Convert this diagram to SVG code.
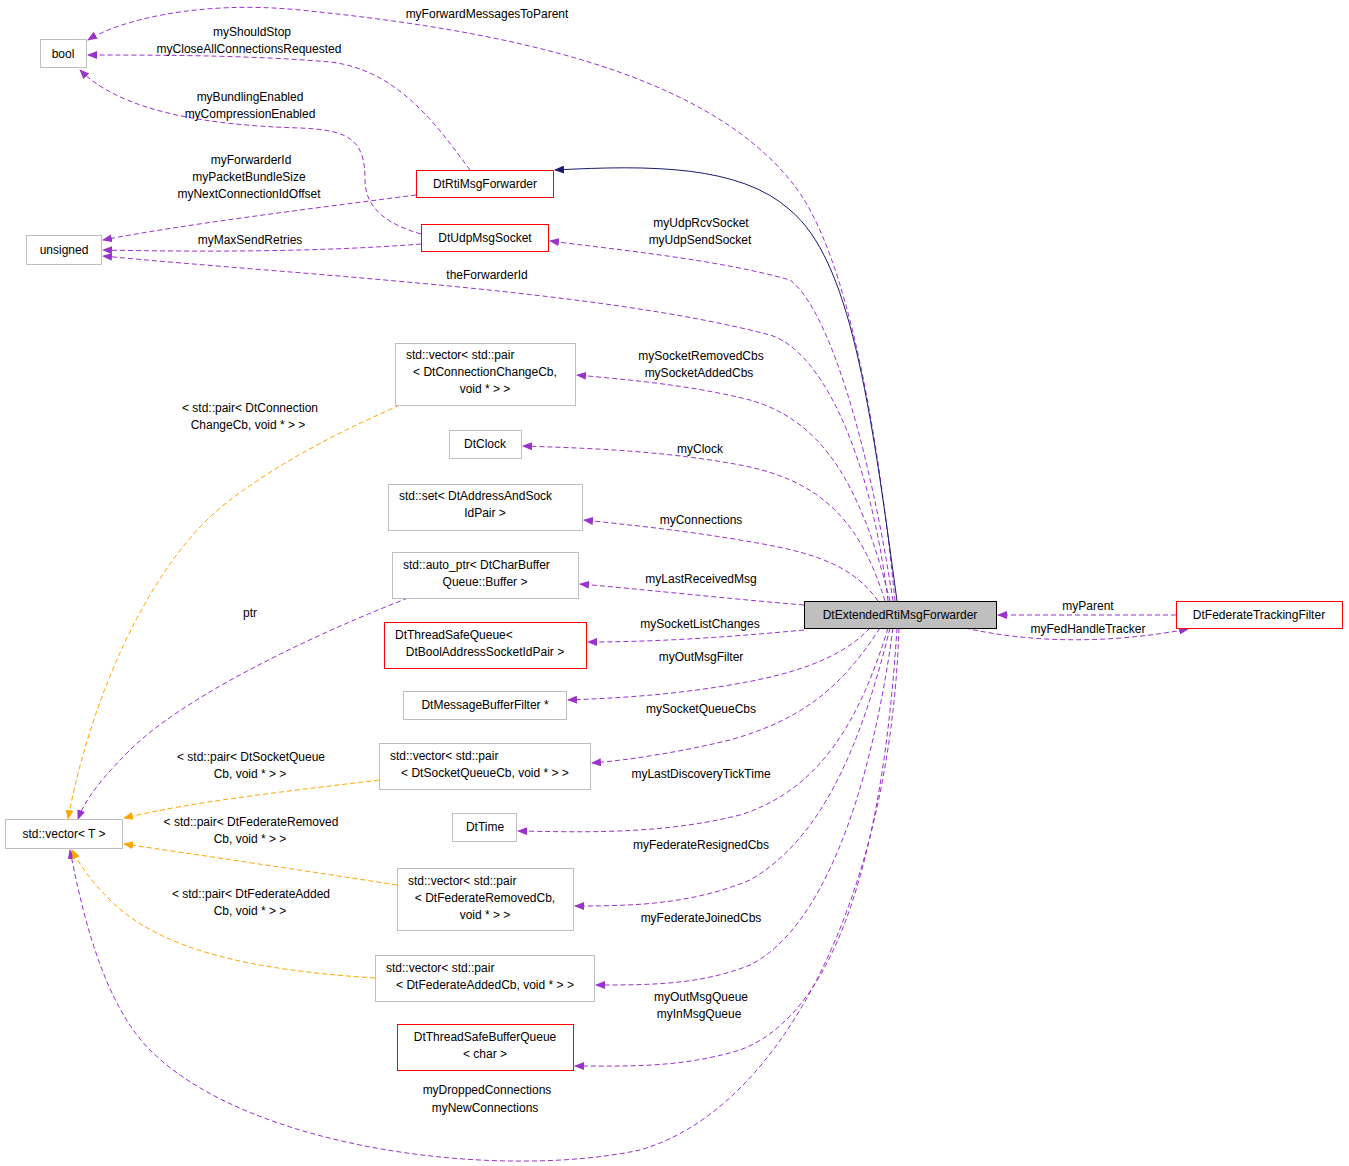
<svg xmlns="http://www.w3.org/2000/svg" width="1349" height="1166" viewBox="0 0 1349 1166">
<defs>
<style>
text{font-family:"Liberation Sans",Arial,sans-serif;font-size:12px;fill:#000}
.n rect{fill:#fff;stroke:#bfbfbf;stroke-width:1}
.r rect{stroke:#ff0000}
.e path{fill:none;stroke:#9a32cd;stroke-dasharray:5,3;stroke-width:1}
.e path.o{stroke:#ffa500}
.e path.s{stroke:#191970;stroke-dasharray:none}
.e path.p{marker-end:url(#mp)}
.e path.o{marker-end:url(#mo)}
.e path.s{marker-end:url(#ms)}
</style>
<marker id="mp" markerWidth="10" markerHeight="8" refX="9" refY="4" orient="auto" markerUnits="userSpaceOnUse"><path d="M0,0 L10,4 L0,8z" fill="#9a32cd"/></marker>
<marker id="mo" markerWidth="10" markerHeight="8" refX="9" refY="4" orient="auto" markerUnits="userSpaceOnUse"><path d="M0,0 L10,4 L0,8z" fill="#ffa500"/></marker>
<marker id="ms" markerWidth="10" markerHeight="8" refX="9" refY="4" orient="auto" markerUnits="userSpaceOnUse"><path d="M0,0 L10,4 L0,8z" fill="#191970"/></marker>
</defs>
<rect width="1349" height="1166" fill="#fff"/>
<g id="edges" class="e">
<path class="p" d="M895,601 C880,450 850,250 790,180 C700,70 500,30 300,10 C200,0 120,20 88,40"/>
<path class="p" d="M470,170 C440,130 400,70 330,62 C250,55 150,55 88,55"/>
<path class="p" d="M421,234 C390,225 365,210 365,180 C365,140 350,130 300,128 C200,125 120,110 80,70"/>
<path class="p" d="M416,195 C300,210 180,225 103,240"/>
<path class="p" d="M421,244 C320,252 200,252 103,250"/>
<path class="p" d="M888,601 C870,450 820,350 770,335 C600,290 300,275 103,256"/>
<path class="s" d="M897,601 C870,400 850,260 790,210 C740,165 650,165 555,170"/>
<path class="p" d="M893,601 C870,450 830,310 790,280 C720,260 620,250 550,241"/>
<path class="p" d="M890,601 C860,480 820,420 750,400 C690,385 630,380 577,375"/>
<path class="p" d="M885,601 C860,520 820,480 740,465 C660,450 580,448 523,446"/>
<path class="p" d="M878,601 C850,560 800,550 740,540 C680,530 630,525 584,520"/>
<path class="p" d="M804,605 C720,598 650,590 580,584"/>
<path class="p" d="M804,630 C720,638 650,642 588,642"/>
<path class="p" d="M870,628 C840,660 790,675 730,685 C670,695 620,698 568,700"/>
<path class="p" d="M880,628 C840,690 800,720 730,740 C680,752 630,760 592,763"/>
<path class="p" d="M888,628 C860,720 820,790 740,815 C660,835 580,832 518,831"/>
<path class="p" d="M890,628 C860,750 820,840 750,880 C690,905 630,906 575,906"/>
<path class="p" d="M893,628 C870,800 820,930 750,965 C700,985 650,985 596,985"/>
<path class="p" d="M897,628 C880,900 820,1020 740,1050 C680,1068 630,1066 575,1066"/>
<path class="p" d="M899,628 C890,900 780,1110 640,1150 C500,1180 250,1150 150,1050 C100,1000 80,900 70,850"/>
<path class="p" d="M408,598 C300,640 180,700 130,750 C100,780 85,800 78,819"/>
<path class="o" d="M400,405 C320,440 270,470 230,500 C150,560 90,700 68,819"/>
<path class="o" d="M379,780 C300,790 200,800 124,818"/>
<path class="o" d="M397,885 C300,870 200,855 124,844"/>
<path class="o" d="M375,978 C250,970 160,950 110,900 C90,880 80,865 72,850"/>
<path class="p" d="M1176,615 L998,615"/>
<path class="p" d="M965,628 C1040,645 1120,642 1188,629"/>
</g>
<g id="labels">
<text x="487" y="18" text-anchor="middle">myForwardMessagesToParent</text>
<text x="252" y="36" text-anchor="middle">myShouldStop</text>
<text x="249" y="53" text-anchor="middle">myCloseAllConnectionsRequested</text>
<text x="250" y="101" text-anchor="middle">myBundlingEnabled</text>
<text x="250" y="118" text-anchor="middle">myCompressionEnabled</text>
<text x="251" y="164" text-anchor="middle">myForwarderId</text>
<text x="249" y="181" text-anchor="middle">myPacketBundleSize</text>
<text x="249" y="198" text-anchor="middle">myNextConnectionIdOffset</text>
<text x="250" y="244" text-anchor="middle">myMaxSendRetries</text>
<text x="487" y="279" text-anchor="middle">theForwarderId</text>
<text x="701" y="227" text-anchor="middle">myUdpRcvSocket</text>
<text x="700" y="244" text-anchor="middle">myUdpSendSocket</text>
<text x="701" y="360" text-anchor="middle">mySocketRemovedCbs</text>
<text x="699" y="377" text-anchor="middle">mySocketAddedCbs</text>
<text x="250" y="412" text-anchor="middle">&lt; std::pair&lt; DtConnection</text>
<text x="248" y="429" text-anchor="middle">ChangeCb, void * &gt; &gt;</text>
<text x="700" y="453" text-anchor="middle">myClock</text>
<text x="701" y="524" text-anchor="middle">myConnections</text>
<text x="701" y="583" text-anchor="middle">myLastReceivedMsg</text>
<text x="250" y="617" text-anchor="middle">ptr</text>
<text x="700" y="628" text-anchor="middle">mySocketListChanges</text>
<text x="701" y="661" text-anchor="middle">myOutMsgFilter</text>
<text x="701" y="713" text-anchor="middle">mySocketQueueCbs</text>
<text x="251" y="761" text-anchor="middle">&lt; std::pair&lt; DtSocketQueue</text>
<text x="250" y="778" text-anchor="middle">Cb, void * &gt; &gt;</text>
<text x="701" y="778" text-anchor="middle">myLastDiscoveryTickTime</text>
<text x="251" y="826" text-anchor="middle">&lt; std::pair&lt; DtFederateRemoved</text>
<text x="250" y="843" text-anchor="middle">Cb, void * &gt; &gt;</text>
<text x="701" y="849" text-anchor="middle">myFederateResignedCbs</text>
<text x="251" y="898" text-anchor="middle">&lt; std::pair&lt; DtFederateAdded</text>
<text x="250" y="915" text-anchor="middle">Cb, void * &gt; &gt;</text>
<text x="701" y="922" text-anchor="middle">myFederateJoinedCbs</text>
<text x="701" y="1001" text-anchor="middle">myOutMsgQueue</text>
<text x="699" y="1018" text-anchor="middle">myInMsgQueue</text>
<text x="487" y="1094" text-anchor="middle">myDroppedConnections</text>
<text x="485" y="1112" text-anchor="middle">myNewConnections</text>
<text x="1088" y="610" text-anchor="middle">myParent</text>
<text x="1088" y="633" text-anchor="middle">myFedHandleTracker</text>
</g>
<g id="bool" class="n"><rect x="40.5" y="39.5" width="46" height="28"/><text x="63" y="58" text-anchor="middle">bool</text></g>
<g id="unsigned" class="n"><rect x="26.5" y="235.5" width="75" height="29"/><text x="64" y="254" text-anchor="middle">unsigned</text></g>
<g id="vectorT" class="n"><rect x="5.5" y="819.5" width="117" height="29"/><text x="64" y="838" text-anchor="middle">std::vector&lt; T &gt;</text></g>
<g id="rti" class="n r"><rect x="416.5" y="170.5" width="137" height="27"/><text x="485" y="188" text-anchor="middle">DtRtiMsgForwarder</text></g>
<g id="udp" class="n r"><rect x="421.5" y="224.5" width="127" height="27"/><text x="485" y="242" text-anchor="middle">DtUdpMsgSocket</text></g>
<g id="vcc" class="n"><rect x="395.5" y="343.5" width="180" height="62"/><text x="406" y="359">std::vector&lt; std::pair</text><text x="485" y="376" text-anchor="middle">&lt; DtConnectionChangeCb,</text><text x="485" y="393" text-anchor="middle">void * &gt; &gt;</text></g>
<g id="clock" class="n"><rect x="449.5" y="430.5" width="72" height="28"/><text x="485" y="448" text-anchor="middle">DtClock</text></g>
<g id="set" class="n"><rect x="388.5" y="484.5" width="194" height="46"/><text x="399" y="500">std::set&lt; DtAddressAndSock</text><text x="485" y="517" text-anchor="middle">IdPair &gt;</text></g>
<g id="auto" class="n"><rect x="392.5" y="552.5" width="186" height="46"/><text x="403" y="569">std::auto_ptr&lt; DtCharBuffer</text><text x="485" y="586" text-anchor="middle">Queue::Buffer &gt;</text></g>
<g id="tsq" class="n r"><rect x="384.5" y="622.5" width="202" height="46"/><text x="395" y="639">DtThreadSafeQueue&lt;</text><text x="485" y="656" text-anchor="middle">DtBoolAddressSocketIdPair &gt;</text></g>
<g id="mbf" class="n"><rect x="403.5" y="691.5" width="163" height="28"/><text x="485" y="709" text-anchor="middle">DtMessageBufferFilter *</text></g>
<g id="vsq" class="n"><rect x="379.5" y="743.5" width="211" height="46"/><text x="390" y="760">std::vector&lt; std::pair</text><text x="485" y="777" text-anchor="middle">&lt; DtSocketQueueCb, void * &gt; &gt;</text></g>
<g id="time" class="n"><rect x="452.5" y="813.5" width="64" height="28"/><text x="485" y="831" text-anchor="middle">DtTime</text></g>
<g id="vfr" class="n"><rect x="397.5" y="868.5" width="176" height="62"/><text x="408" y="885">std::vector&lt; std::pair</text><text x="485" y="902" text-anchor="middle">&lt; DtFederateRemovedCb,</text><text x="485" y="919" text-anchor="middle">void * &gt; &gt;</text></g>
<g id="vfa" class="n"><rect x="375.5" y="955.5" width="219" height="46"/><text x="386" y="972">std::vector&lt; std::pair</text><text x="485" y="989" text-anchor="middle">&lt; DtFederateAddedCb, void * &gt; &gt;</text></g>
<g id="tsbq" class="n r"><rect x="397.5" y="1024.5" width="176" height="46"/><text x="485" y="1041" text-anchor="middle">DtThreadSafeBufferQueue</text><text x="485" y="1058" text-anchor="middle">&lt; char &gt;</text></g>
<g id="main"><rect x="804.5" y="601.5" width="192" height="27" fill="#bfbfbf" stroke="#000"/><text x="900" y="619" text-anchor="middle">DtExtendedRtiMsgForwarder</text></g>
<g id="ftf" class="n r"><rect x="1176.5" y="601.5" width="166" height="27"/><text x="1259" y="619" text-anchor="middle">DtFederateTrackingFilter</text></g>
</svg>
